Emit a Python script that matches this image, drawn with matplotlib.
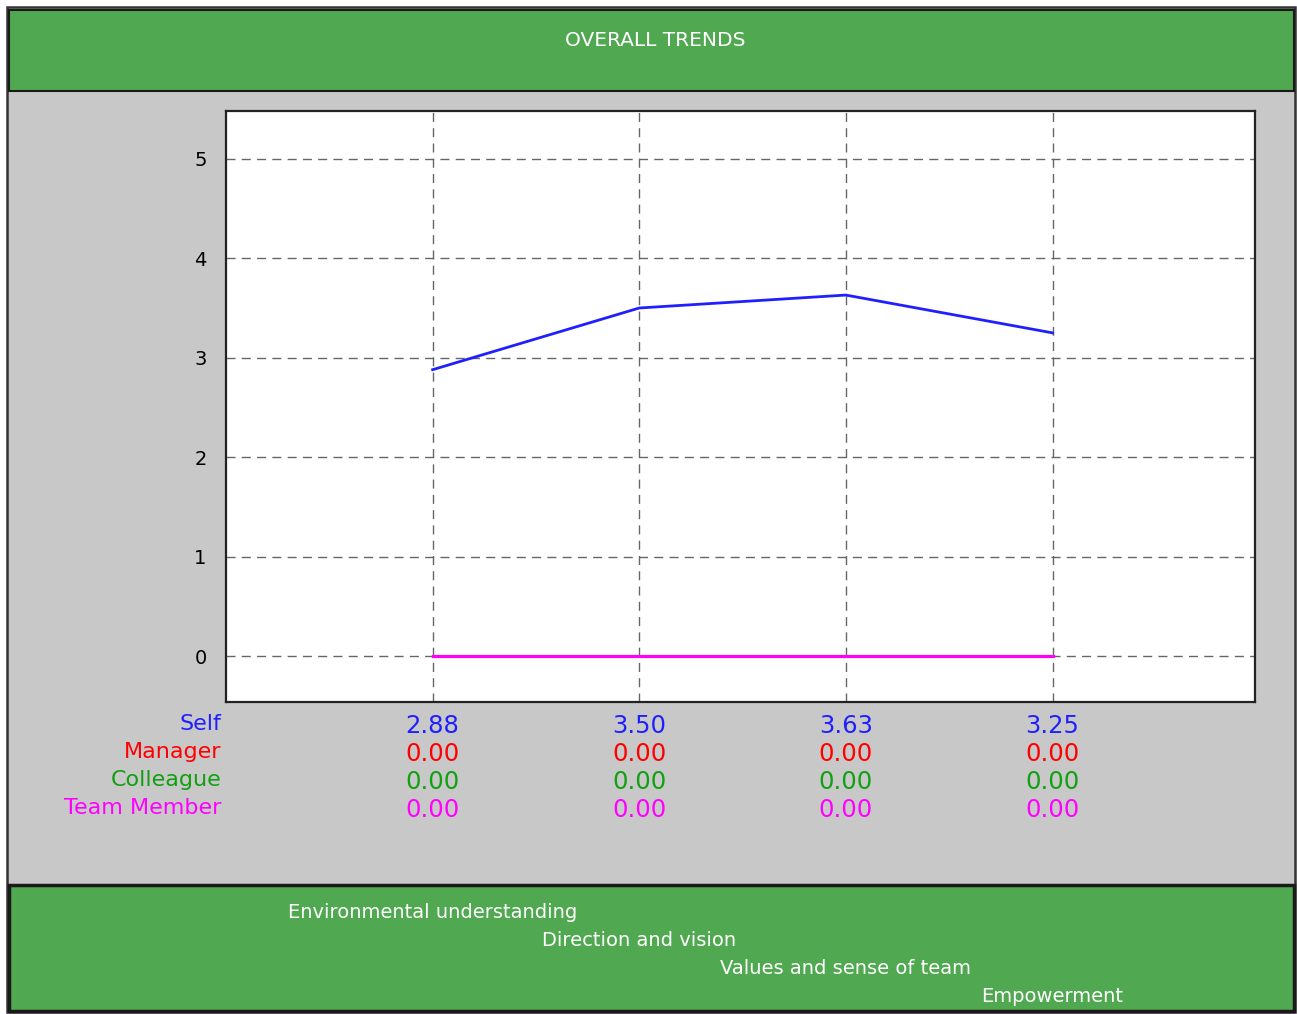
import numpy as np
import matplotlib.pyplot as plt
from matplotlib.patches import Rectangle
from matplotlib.transforms import blended_transform_factory

categories = ['Environmental understanding', 'Direction and vision',
              'Values and sense of team', 'Empowerment']
series_names = ['Self', 'Manager', 'Colleague', 'Team Member']
self_vals = [2.88, 3.50, 3.63, 3.25]
manager_vals = [0.00, 0.00, 0.00, 0.00]
colleague_vals = [0.00, 0.00, 0.00, 0.00]
team_vals = [0.00, 0.00, 0.00, 0.00]
series = [self_vals, manager_vals, colleague_vals, team_vals]
colors = ['#2020ff', '#ff0000', '#10a010', '#ff00ff']
yticks = [0, 1, 2, 3, 4, 5]

W, H = 1297, 1014
GREEN = '#50a850'
GRAY = '#c8c8c8'


def fx(px):
    return px / W


def fy(py):
    return 1 - py / H


fig = plt.figure(figsize=(W / 100, H / 100), dpi=100)
fig.patch.set_facecolor('white')

# panel, header, footer
fig.patches.append(Rectangle((fx(7), fy(1012)), fx(1288), (1005) / H, transform=fig.transFigure,
                             facecolor=GRAY, edgecolor='#333333', lw=1.8, zorder=-3))
fig.patches.append(Rectangle((fx(9), fy(91)), fx(1285), 81 / H, transform=fig.transFigure,
                             facecolor=GREEN, edgecolor='#1a1a1a', lw=1.5, zorder=-2))
fig.patches.append(Rectangle((fx(9), fy(1011)), fx(1285), 126 / H, transform=fig.transFigure,
                             facecolor=GREEN, edgecolor='#1a1a1a', lw=2.5, zorder=-2))
fig.text(fx(655), fy(41), 'OVERALL TRENDS', color='white', fontsize=14.5,
         ha='center', va='center')

ax = fig.add_axes([fx(226), fy(702), fx(1255 - 226), (702 - 111) / H])
ax.set_facecolor('white')
x = np.arange(len(categories))
for vals, name, c in zip(series, series_names, colors):
    lw = 2.0 if name == 'Self' else 2.2
    ax.plot(x, vals, color=c, lw=lw, label=name, zorder=3)

ax.set_xlim(-1, 3.98)
ax.set_ylim(-0.46, 5.48)
ax.set_yticks(yticks)
ax.set_xticks(x)
ax.set_xticklabels([])
ax.tick_params(length=0, labelsize=14, pad=14)
ax.grid(True, color='#666666', linestyle=(0, (6.5, 4.5)), lw=1.0)
for s in ax.spines.values():
    s.set_linewidth(1.6)
    s.set_color('#222222')

# value table under the plot
tr = blended_transform_factory(ax.transData, fig.transFigure)
rows_y = [724, 752, 780, 808]
for name, vals, c, ry in zip(series_names, series, colors, rows_y):
    fig.text(fx(221), fy(ry), name, color=c, fontsize=16, ha='right', va='center')
    for xi, v in zip(x, vals):
        ax.text(xi, fy(ry + 2), f'{v:.2f}', color=c, fontsize=17.5, ha='center',
                va='center', transform=tr, clip_on=False)

# category names in the footer
cat_y = [912, 940, 968, 997]
for xi, name, cy in zip(x, categories, cat_y):
    ax.text(xi, fy(cy), name, color='white', fontsize=14, ha='center',
            va='center', transform=tr, clip_on=False)

plt.savefig('out.png', dpi=100)
